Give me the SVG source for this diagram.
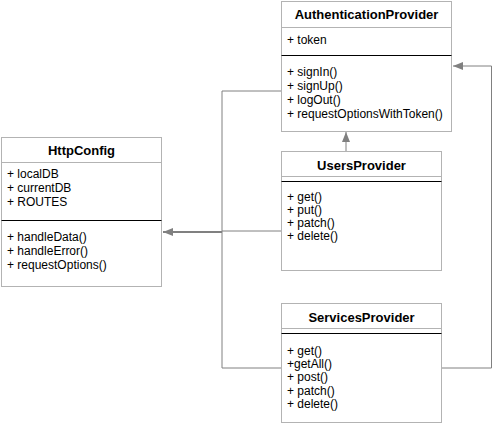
<svg xmlns="http://www.w3.org/2000/svg" width="502" height="428" viewBox="0 0 502 428">
  <style>
    .box { fill: #ffffff; stroke: #b3b3b3; stroke-width: 1; }
    .sep { stroke: #b3b3b3; stroke-width: 1; }
    .bar { stroke: #000000; stroke-width: 1; }
    .title { font-family: "Liberation Sans", Arial, sans-serif; font-size: 13px; font-weight: bold; fill: #000; text-anchor: middle; }
    .item { font-family: "Liberation Sans", Arial, sans-serif; font-size: 12px; fill: #000; }
    .wire { fill: none; stroke: #808080; stroke-width: 1; }
    .wire-bold { fill: none; stroke: #808080; stroke-width: 2; }
  </style>
  <defs>
    <marker id="tri" viewBox="0 0 10 10" refX="10" refY="5" markerWidth="10" markerHeight="10" markerUnits="userSpaceOnUse" orient="auto">
      <path d="M0,1 L10,5 L0,9 Z" fill="#808080"/>
    </marker>
  </defs>
  <rect width="502" height="428" fill="#ffffff"/>

  <g id="connectors">
    <!-- inheritance into HttpConfig -->
    <path class="wire" d="M282,91 H222 V368 H282"/>
    <path class="wire" d="M282,231 H222"/>
    <path class="wire-bold" d="M222,232 H163" marker-end="url(#tri)"/>
    <!-- UsersProvider uses AuthenticationProvider -->
    <path class="wire" d="M346,151 V132" marker-end="url(#tri)"/>
    <!-- ServicesProvider uses AuthenticationProvider -->
    <path class="wire" d="M441,368 H491.5 V66 H453" marker-end="url(#tri)"/>
  </g>

  <g id="AuthenticationProvider">
    <rect class="box" x="281.5" y="1.5" width="170" height="130"/>
    <line class="sep" x1="281.5" y1="27.5" x2="451.5" y2="27.5"/>
    <line class="bar" x1="281.5" y1="55.5" x2="451.5" y2="55.5"/>
    <text class="title" x="366.5" y="19">AuthenticationProvider</text>
    <text class="item" x="287" y="44">+ token</text>
    <text class="item" x="287" y="76">+ signIn()</text>
    <text class="item" x="287" y="90">+ signUp()</text>
    <text class="item" x="287" y="104">+ logOut()</text>
    <text class="item" x="287" y="118">+ requestOptionsWithToken()</text>
  </g>

  <g id="HttpConfig">
    <rect class="box" x="1.5" y="137.5" width="160" height="149"/>
    <line class="sep" x1="1.5" y1="162.5" x2="161.5" y2="162.5"/>
    <line class="bar" x1="1.5" y1="220.5" x2="161.5" y2="220.5"/>
    <text class="title" x="81.5" y="155">HttpConfig</text>
    <text class="item" x="7" y="178">+ localDB</text>
    <text class="item" x="7" y="192">+ currentDB</text>
    <text class="item" x="7" y="206">+ ROUTES</text>
    <text class="item" x="7" y="241">+ handleData()</text>
    <text class="item" x="7" y="255">+ handleError()</text>
    <text class="item" x="7" y="269">+ requestOptions()</text>
  </g>

  <g id="UsersProvider">
    <rect class="box" x="281.5" y="151.5" width="160" height="119"/>
    <line class="sep" x1="281.5" y1="176.5" x2="441.5" y2="176.5"/>
    <line class="bar" x1="281.5" y1="181.5" x2="441.5" y2="181.5"/>
    <text class="title" x="361.5" y="170">UsersProvider</text>
    <text class="item" x="287" y="201">+ get()</text>
    <text class="item" x="287" y="214">+ put()</text>
    <text class="item" x="287" y="227">+ patch()</text>
    <text class="item" x="287" y="240">+ delete()</text>
  </g>

  <g id="ServicesProvider">
    <rect class="box" x="281.5" y="303.5" width="160" height="119"/>
    <line class="sep" x1="281.5" y1="328.5" x2="441.5" y2="328.5"/>
    <line class="bar" x1="281.5" y1="333.5" x2="441.5" y2="333.5"/>
    <text class="title" x="361.5" y="322">ServicesProvider</text>
    <text class="item" x="287" y="355">+ get()</text>
    <text class="item" x="287" y="368">+getAll()</text>
    <text class="item" x="287" y="381">+ post()</text>
    <text class="item" x="287" y="395">+ patch()</text>
    <text class="item" x="287" y="408">+ delete()</text>
  </g>
</svg>
